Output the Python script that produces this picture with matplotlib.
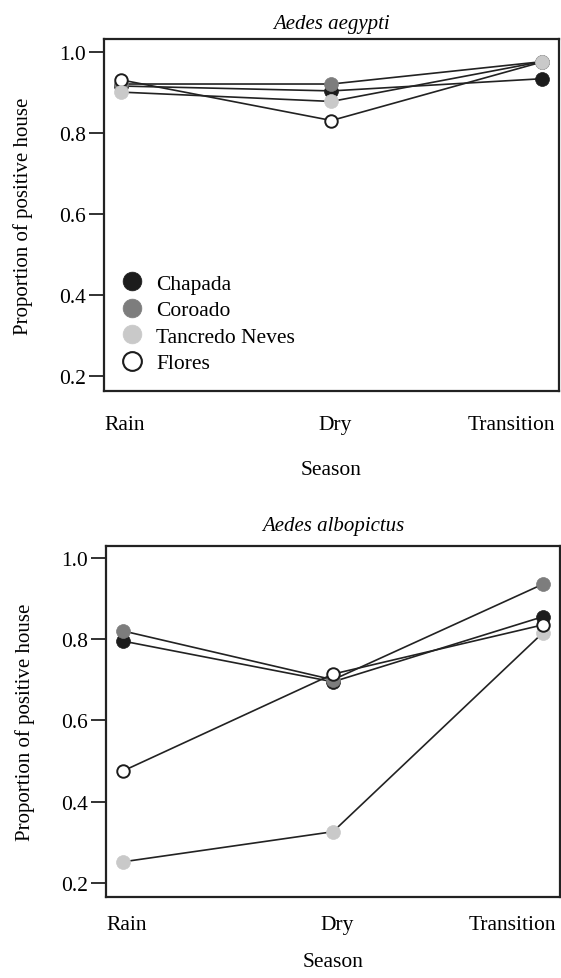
import matplotlib
matplotlib.use("Agg")
import matplotlib.pyplot as plt
from matplotlib.lines import Line2D
import matplotlib.transforms as mtransforms

plt.rcParams['font.family'] = ['Liberation Serif', 'DejaVu Serif']

# ---- data ----
seasons = ["Rain", "Dry", "Transition"]
neighbourhoods = ["Chapada", "Coroado", "Tancredo Neves", "Flores"]

aegypti_chapada = [0.915, 0.903, 0.933]
aegypti_coroado = [0.920, 0.920, 0.975]
aegypti_tancredo = [0.900, 0.877, 0.975]
aegypti_flores = [0.930, 0.830, 0.974]

albopictus_chapada = [0.795, 0.695, 0.855]
albopictus_coroado = [0.820, 0.700, 0.935]
albopictus_tancredo = [0.252, 0.326, 0.815]
albopictus_flores = [0.476, 0.714, 0.835]

yticks = [0.2, 0.4, 0.6, 0.8, 1.0]
yticklabels = ["0.2", "0.4", "0.6", "0.8", "1.0"]

# ---- style ----
face = {"Chapada": "#1c1c1c", "Coroado": "#7d7d7d",
        "Tancredo Neves": "#c9c9c9", "Flores": "white"}
edge = {"Chapada": "#1c1c1c", "Coroado": "#7d7d7d",
        "Tancredo Neves": "#c9c9c9", "Flores": "#1c1c1c"}

W, H = 561, 979
fig = plt.figure(figsize=(W / 100, H / 100), dpi=100)

FS = 15.5


def setup(ax, title, pad, tickpad, xlabelpad):
    ax.set_xlim(-0.083, 2.083)
    ax.set_yticks(yticks)
    ax.set_yticklabels(yticklabels)
    ax.tick_params(axis='y', length=11, width=1.3, pad=2, labelsize=FS,
                   color="#222222")
    ax.set_xticks(range(len(seasons)))
    ax.set_xticklabels(seasons)
    ax.tick_params(axis='x', length=0, pad=tickpad, labelsize=FS)
    offs = [-0.17, 0.04, 0.14]
    has = ['left', 'center', 'right']
    for lab, dx, ha in zip(ax.get_xticklabels(), offs, has):
        lab.set_ha(ha)
        lab.set_transform(lab.get_transform() +
                          mtransforms.ScaledTranslation(dx, 0, fig.dpi_scale_trans))
    for sp in ax.spines.values():
        sp.set_linewidth(1.6)
        sp.set_color("#222222")
    ax.set_title(title, fontsize=FS - 0.5, style='italic', pad=pad)
    ax.set_ylabel("Proportion of positive house", fontsize=FS - 0.5, labelpad=19)
    ax.set_xlabel("Season", fontsize=FS, labelpad=xlabelpad)


def draw(ax, series, order):
    x = list(range(len(seasons)))
    for name in order:
        ax.plot(x, series[name], color="#222222", lw=1.2,
                marker='o', ms=9.0 if name == "Flores" else 10.0,
                mfc=face[name], mec=edge[name],
                mew=1.4 if name == "Flores" else 0.5)


# top panel
ax1 = fig.add_axes([104 / W, 1 - 392 / H, 455 / W, 352 / H])
ax1.set_ylim(0.163, 1.031)
top_series = {"Chapada": aegypti_chapada, "Coroado": aegypti_coroado,
              "Tancredo Neves": aegypti_tancredo, "Flores": aegypti_flores}
draw(ax1, top_series, ["Chapada", "Coroado", "Flores", "Tancredo Neves"])
setup(ax1, "Aedes aegypti", 8, 17, 19)

handles = [Line2D([], [], ls='none', marker='o', ms=13.5, mfc=face[n],
                  mec=edge[n], mew=1.5 if n == "Flores" else 0.5)
           for n in neighbourhoods]
ax1.legend(handles, neighbourhoods, loc='lower left', frameon=False,
           bbox_to_anchor=(0.038, 0.05), borderpad=0, borderaxespad=0,
           handlelength=1.0, handletextpad=0.62, labelspacing=0.3,
           fontsize=FS)

# bottom panel
ax2 = fig.add_axes([106 / W, 1 - 897.7 / H, 454 / W, 351 / H])
ax2.set_ylim(0.166, 1.030)
bot_series = {"Chapada": albopictus_chapada, "Coroado": albopictus_coroado,
              "Tancredo Neves": albopictus_tancredo, "Flores": albopictus_flores}
draw(ax2, bot_series, ["Chapada", "Coroado", "Tancredo Neves", "Flores"])
setup(ax2, "Aedes albopictus", 11, 13, 13)

fig.savefig("out.png", dpi=100)
